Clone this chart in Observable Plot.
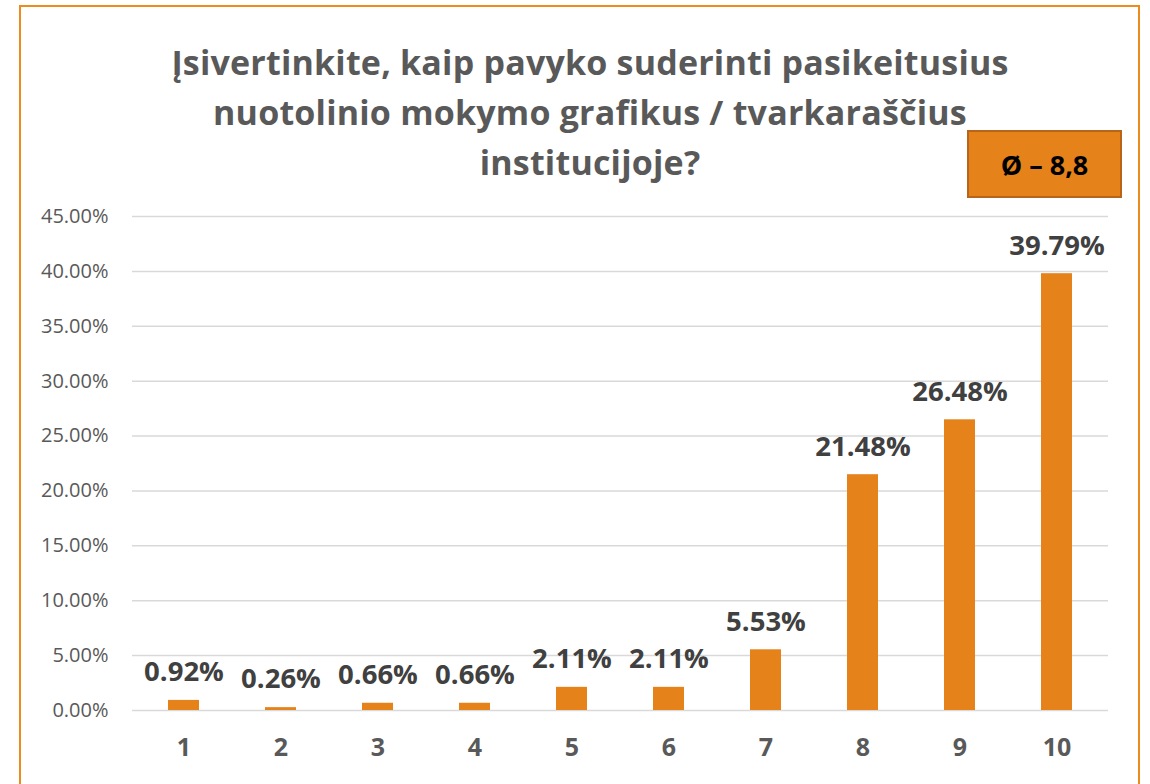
<!DOCTYPE html>
<html>
<head>
<meta charset="utf-8">
<script src="https://cdn.jsdelivr.net/npm/d3@7"></script>
<script src="https://cdn.jsdelivr.net/npm/@observablehq/plot@0.6"></script>
<style>
  html, body { margin: 0; padding: 0; background: #fff; }
  #wrap { position: relative; width: 1150px; height: 784px; overflow: hidden; font-family: "Open Sans", sans-serif; }
  #frame { position: absolute; left: 19px; top: 5px; width: 1121px; height: 800px; border: 2px solid #ED8B1D; box-sizing: border-box; }
  #title { position: absolute; left: 30px; width: 1120px; top: 37px; text-align: center; font-weight: 700; font-size: 34px; line-height: 50px; color: #595959; letter-spacing: 0.2px; }
  #avg { position: absolute; left: 967px; top: 130px; width: 155px; height: 68px; background: #E6821A; border: 2px solid #B8641A; box-sizing: border-box; display: flex; align-items: center; justify-content: center; font-weight: 700; font-size: 27px; color: #000; }
  #chart { position: absolute; left: 0; top: 200px; }
</style>
</head>
<body>
<div id="wrap">
  <div id="frame"></div>
  <div id="title">Įsivertinkite, kaip pavyko suderinti pasikeitusius<br>nuotolinio mokymo grafikus / tvarkaraščius<br>institucijoje?</div>
  <div id="avg">Ø – 8,8</div>
  <div id="chart"></div>
</div>
<script>
const categories = ["1", "2", "3", "4", "5", "6", "7", "8", "9", "10"];
const shares = [0.0092, 0.0026, 0.0066, 0.0066, 0.0211, 0.0211, 0.0553, 0.2148, 0.2648, 0.3979];
const yTicks = [0, 0.05, 0.10, 0.15, 0.20, 0.25, 0.30, 0.35, 0.40, 0.45];

const data = categories.map((c, i) => ({category: c, share: shares[i]}));
const pct = d3.format(".2%");

const chart = Plot.plot({
  width: 1150,
  height: 584,
  marginLeft: 132,
  marginRight: 42,
  marginTop: 16,
  marginBottom: 74,
  style: { fontFamily: "'Open Sans', sans-serif", background: "transparent", overflow: "visible" },
  x: { domain: categories, paddingInner: 0.68, paddingOuter: 0.34, align: 0.5, label: null, tickSize: 0, tickPadding: 30 },
  y: { domain: [0, 0.45], ticks: yTicks, tickFormat: d3.format(".2%"), label: null, tickSize: 0, tickPadding: 24 },
  marks: [
    Plot.gridY(yTicks, { stroke: "#d9d9d9", strokeOpacity: 1, strokeWidth: 1.5 }),
    Plot.barY(data, { x: "category", y: "share", fill: "#E6821A" }),
    Plot.text(data, { x: "category", y: "share", text: d => pct(d.share), dy: -28, fontSize: 27.5, fontWeight: 700, fill: "#404040" }),
    Plot.axisY({ ticks: yTicks, tickFormat: d3.format(".2%"), tickSize: 0, tickPadding: 24, fontSize: 20, color: "#595959", label: null }),
    Plot.axisX({ tickSize: 0, tickPadding: 28, fontSize: 25, fontWeight: 700, color: "#595959", label: null })
  ]
});
document.getElementById("chart").appendChild(chart);
</script>
</body>
</html>
